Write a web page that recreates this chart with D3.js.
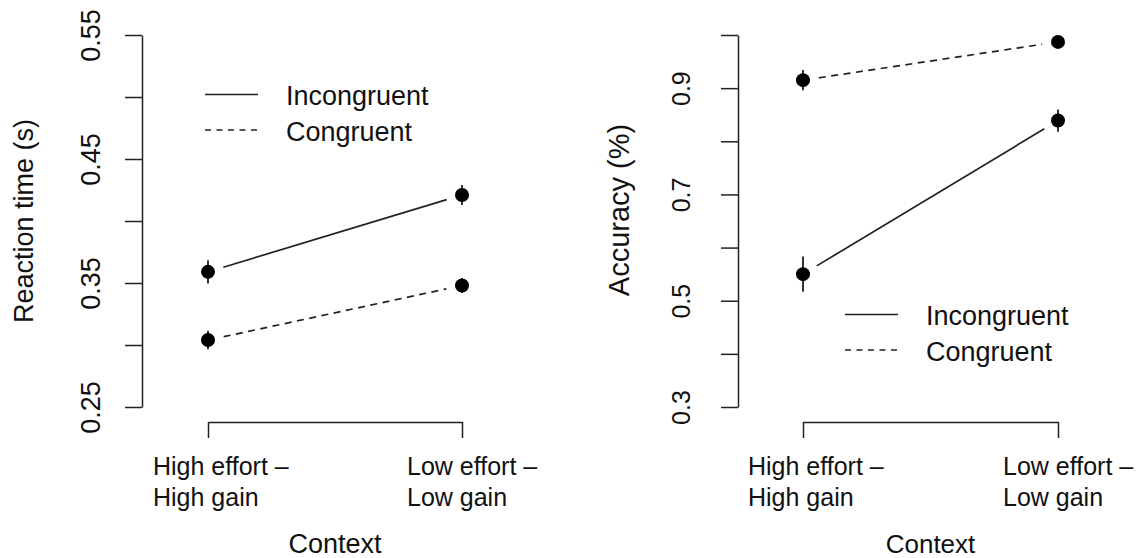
<!DOCTYPE html>
<html>
<head>
<meta charset="utf-8">
<script src="https://cdn.jsdelivr.net/npm/d3@7"></script>
<style>
  html, body { margin: 0; padding: 0; background: #fff; }
  svg { display: block; font-family: "Liberation Sans", Arial, sans-serif; }
</style>
</head>
<body>
<svg id="chart" width="1138" height="558"></svg>
<script>
// Context conditions (x categories), each label split over two lines
const categories = ["High effort – High gain", "Low effort – Low gain"];
const categoryLines = [["High effort –", "High gain"], ["Low effort –", "Low gain"]];
const seriesNames = ["Incongruent", "Congruent"];

// Reaction time (s): means and standard errors
const rtIncongruent = [0.359, 0.421];
const rtIncongruentSE = [0.0094, 0.0080];
const rtCongruent = [0.304, 0.348];
const rtCongruentSE = [0.0075, 0.0060];
const rtTicks = [0.25, 0.30, 0.35, 0.40, 0.45, 0.50, 0.55];
const rtTickLabels = ["0.25", "", "0.35", "", "0.45", "", "0.55"];

// Accuracy: means and standard errors
const accIncongruent = [0.550, 0.839];
const accIncongruentSE = [0.033, 0.021];
const accCongruent = [0.915, 0.987];
const accCongruentSE = [0.019, 0.005];
const accTicks = [0.3, 0.4, 0.5, 0.6, 0.7, 0.8, 0.9, 1.0];
const accTickLabels = ["0.3", "", "0.5", "", "0.7", "", "0.9", ""];

const svg = d3.select("#chart");
const ink = "#222";

function panel(cfg) {
  const g = svg.append("g");
  const x = d3.scalePoint().domain(categories).range(cfg.xRange);
  const y = d3.scaleLinear().domain(cfg.yDomain).range([407, 35]);

  // y axis (R style: line spans first to last tick, labels parallel to axis)
  const yAxis = d3.axisLeft(y)
    .tickValues(cfg.ticks)
    .tickFormat((d, i) => cfg.tickLabels[i])
    .tickSize(17).tickSizeOuter(0);
  const ya = g.append("g").attr("transform", `translate(${cfg.axisX},0)`).call(yAxis);
  ya.selectAll("path, line").attr("stroke", ink).attr("stroke-width", 1.5);
  ya.selectAll("text")
    .attr("x", null).attr("dy", null)
    .attr("text-anchor", "middle")
    .attr("transform", `translate(${-cfg.tickLabelOffset},0) rotate(-90)`)
    .attr("fill", "#111")
    .style("font-size", cfg.tickFont + "px");

  // x axis
  const xAxis = d3.axisBottom(x).tickSize(16).tickSizeOuter(0).tickFormat("");
  const xa = g.append("g").attr("transform", "translate(0,422)").call(xAxis);
  xa.selectAll("path, line").attr("stroke", ink).attr("stroke-width", 1.5);
  xa.selectAll("text").remove();

  categories.forEach((c, i) => {
    const t = g.append("text")
      .attr("x", x(c) - 55)
      .attr("y", 475)
      .attr("fill", "#111")
      .style("font-size", "25px");
    categoryLines[i].forEach((line, j) => {
      t.append("tspan").attr("x", x(c) - 55).attr("y", 475 + j * 31).text(line);
    });
  });

  // axis titles
  g.append("text")
    .attr("x", (cfg.xRange[0] + cfg.xRange[1]) / 2)
    .attr("y", 553)
    .attr("text-anchor", "middle")
    .attr("fill", "#111")
    .style("font-size", cfg.xTitleFont + "px")
    .text("Context");

  g.append("text")
    .attr("transform", `translate(${cfg.axisX - cfg.yTitleOffset},${cfg.yTitleY}) rotate(-90)`)
    .attr("text-anchor", "middle")
    .attr("fill", "#111")
    .style("font-size", cfg.yTitleFont + "px")
    .text(cfg.yTitle);

  // series lines with gaps around the points
  const gap = 16;
  const line = d3.line();
  cfg.series.forEach(s => {
    const p0 = [x(categories[0]), y(s.values[0])];
    const p1 = [x(categories[1]), y(s.values[1])];
    const dx = p1[0] - p0[0], dy = p1[1] - p0[1];
    const len = Math.hypot(dx, dy);
    const ux = dx / len, uy = dy / len;
    g.append("path")
      .attr("d", line([[p0[0] + ux * gap, p0[1] + uy * gap], [p1[0] - ux * gap, p1[1] - uy * gap]]))
      .attr("fill", "none")
      .attr("stroke", ink)
      .attr("stroke-width", 1.7)
      .attr("stroke-dasharray", s.dashed ? "7,5.5" : null);

    // error bars
    g.selectAll(null).data(s.values).enter().append("line")
      .attr("x1", (d, i) => x(categories[i]))
      .attr("x2", (d, i) => x(categories[i]))
      .attr("y1", (d, i) => y(d - s.se[i]))
      .attr("y2", (d, i) => y(d + s.se[i]))
      .attr("stroke", "#000")
      .attr("stroke-width", 1.6);

    // mean points
    g.selectAll(null).data(s.values).enter().append("circle")
      .attr("cx", (d, i) => x(categories[i]))
      .attr("cy", d => y(d))
      .attr("r", 7)
      .attr("fill", "#000");
  });

  // legend
  const lg = g.append("g");
  cfg.series.forEach((s, i) => {
    const ly = cfg.legend.y + i * 35.5;
    lg.append("line")
      .attr("x1", cfg.legend.x).attr("x2", cfg.legend.x + 53)
      .attr("y1", ly).attr("y2", ly)
      .attr("stroke", ink).attr("stroke-width", 1.5)
      .attr("stroke-dasharray", s.dashed ? "6,5.5" : null);
    lg.append("text")
      .attr("x", cfg.legend.x + 81)
      .attr("y", ly + 10.5)
      .attr("fill", "#111")
      .style("font-size", "27px")
      .text(s.name);
  });
}

panel({
  xRange: [208, 462],
  axisX: 142,
  yDomain: [0.25, 0.55],
  ticks: rtTicks,
  tickLabels: rtTickLabels,
  tickLabelOffset: 42,
  tickFont: 27,
  yTitle: "Reaction time (s)",
  yTitleOffset: 109,
  yTitleY: 221,
  yTitleFont: 27,
  xTitleFont: 27,
  series: [
    { name: seriesNames[0], values: rtIncongruent, se: rtIncongruentSE, dashed: false },
    { name: seriesNames[1], values: rtCongruent, se: rtCongruentSE, dashed: true }
  ],
  legend: { x: 205, y: 94.5 }
});

panel({
  xRange: [803, 1058],
  axisX: 738,
  yDomain: [0.3, 1.0],
  ticks: accTicks,
  tickLabels: accTickLabels,
  tickLabelOffset: 48,
  tickFont: 25,
  yTitle: "Accuracy (%)",
  yTitleOffset: 109,
  yTitleY: 210,
  yTitleFont: 29,
  xTitleFont: 26,
  series: [
    { name: seriesNames[0], values: accIncongruent, se: accIncongruentSE, dashed: false },
    { name: seriesNames[1], values: accCongruent, se: accCongruentSE, dashed: true }
  ],
  legend: { x: 845, y: 314.5 }
});
</script>
</body>
</html>
